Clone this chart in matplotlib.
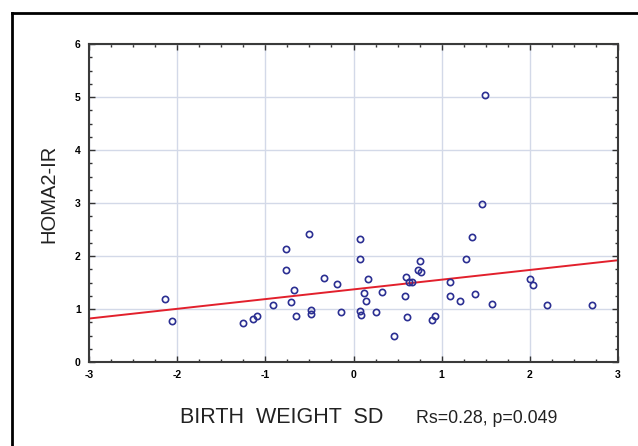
import numpy as np
import matplotlib
matplotlib.use("Agg")
import matplotlib.pyplot as plt
from matplotlib.ticker import MultipleLocator
from matplotlib.lines import Line2D

plt.rcParams["font.family"] = ["Liberation Sans", "DejaVu Sans"]

# --- data --------------------------------------------------------------------
birth_weight_sd = [-2.14, -2.06, -1.25, -1.14, -1.09, -0.91, -0.76, -0.76, -0.68,
                   -0.71, -0.65, -0.51, -0.48, -0.48, -0.34, -0.19, -0.14, 0.07,
                   0.07, 0.07, 0.08, 0.17, 0.12, 0.14, 0.26, 0.32, 0.46, 0.58,
                   0.60, 0.63, 0.66, 0.61, 0.73, 0.75, 0.77, 0.89, 0.93, 1.09,
                   1.09, 1.21, 1.28, 1.34, 1.38, 1.46, 1.49, 1.57, 2.00, 2.04,
                   2.20, 2.71]
homa2_ir = [1.18, 0.77, 0.74, 0.82, 0.87, 1.08, 2.14, 1.74, 1.36,
            1.13, 0.87, 2.42, 0.98, 0.90, 1.58, 1.48, 0.95, 2.32,
            1.94, 0.96, 0.88, 1.56, 1.30, 1.15, 0.95, 1.33, 0.49, 1.25,
            1.61, 1.51, 1.51, 0.85, 1.74, 1.91, 1.69, 0.80, 0.87, 1.51,
            1.25, 1.15, 1.94, 2.35, 1.28, 2.98, 5.04, 1.10, 1.56, 1.46,
            1.08, 1.08]
fit_x = [-3, 3]
fit_y = [0.82, 1.92]
x_ticks = [-3, -2, -1, 0, 1, 2, 3]
y_ticks = [0, 1, 2, 3, 4, 5, 6]
# -----------------------------------------------------------------------------

fig = plt.figure(figsize=(6.38, 4.46), dpi=100)
ax = fig.add_axes([89 / 638, 84 / 446, 529 / 638, 318 / 446])

ax.grid(True, color="#d3d9e8", linewidth=1.0, zorder=0)
ax.plot(fit_x, fit_y, color="#e2202c", linewidth=1.4, zorder=2)
ax.plot(birth_weight_sd, homa2_ir, "o", markerfacecolor="none",
        markeredgecolor="#2b2f92", markersize=4.5, markeredgewidth=1.2, zorder=3)

ax.set_xlim(-3, 3)
ax.set_ylim(0, 6)
ax.set_xticks(x_ticks)
ax.set_yticks(y_ticks)
ax.set_xticklabels([str(v) for v in x_ticks], fontweight="bold", fontsize=7.5)
ax.set_yticklabels([str(v) for v in y_ticks], fontweight="bold", fontsize=7.5)
ax.xaxis.set_minor_locator(MultipleLocator(0.25))
ax.yaxis.set_minor_locator(MultipleLocator(0.25))
ax.tick_params(which="both", direction="in", top=True, right=True,
               color="#333333", width=1.0)
ax.tick_params(which="major", length=4, pad=6)
ax.tick_params(which="minor", length=2.5)
for sp in ax.spines.values():
    sp.set_color("#3a3a3a")
    sp.set_linewidth(1.5)

fig.text(49 / 638, 1 - 193.5 / 446, "HOMA2-IR", rotation=90, fontsize=14.5,
         ha="center", va="center", color="#222222")
fig.text(180 / 638, 1 - 423 / 446, "BIRTH  WEIGHT  SD", fontsize=15.5,
         ha="left", va="baseline", color="#222222")
fig.text(416 / 638, 1 - 423 / 446, "Rs=0.28, p=0.049", fontsize=12.8,
         ha="left", va="baseline", color="#222222")

# outer frame (top and left edges visible)
fig.add_artist(Line2D([12 / 638, 1.0], [1 - 13 / 446, 1 - 13 / 446],
                      transform=fig.transFigure, color="black", linewidth=2))
fig.add_artist(Line2D([12 / 638, 12 / 638], [0.0, 1 - 13 / 446],
                      transform=fig.transFigure, color="black", linewidth=2))

fig.savefig("out.png", dpi=100)
